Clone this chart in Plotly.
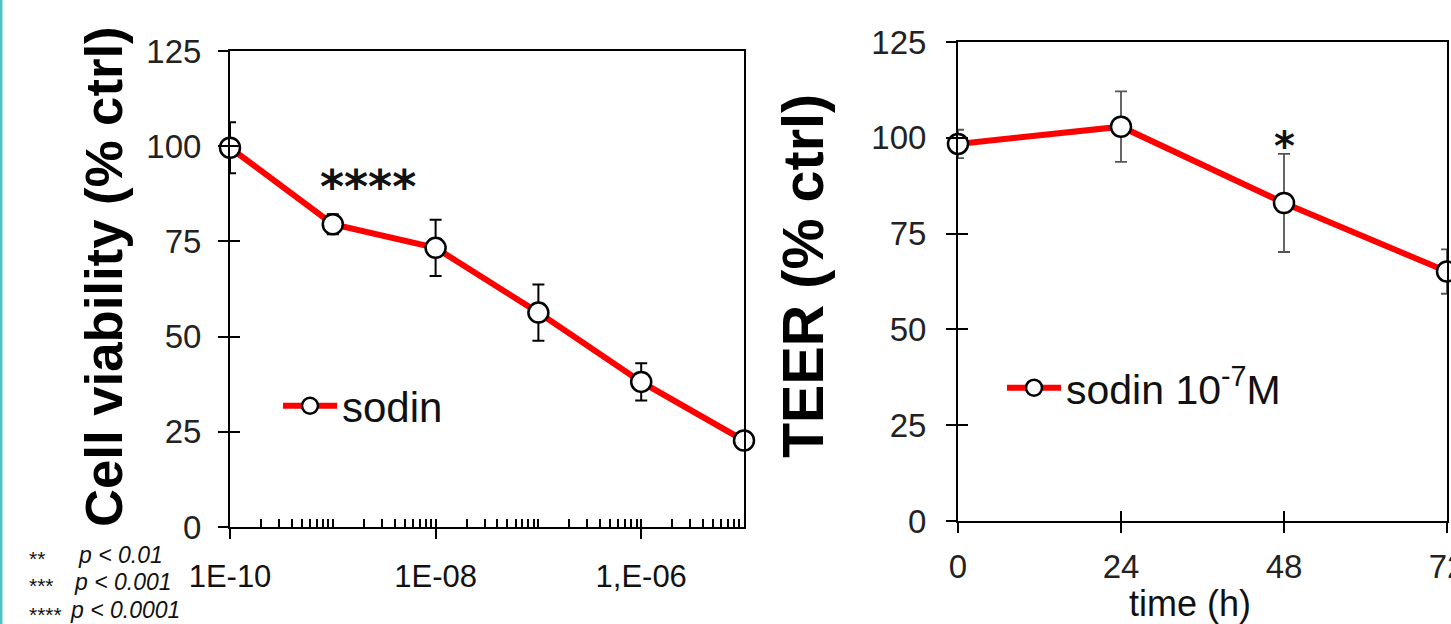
import plotly.graph_objects as go

# ---- data ----
conc = [1e-10, 1e-9, 1e-8, 1e-7, 1e-6, 1e-5]
viability = [99.6, 79.5, 73.3, 56.3, 38.1, 22.7]
viability_err = [6.7, 2.6, 7.4, 7.4, 4.9, 1.5]
conc_tickvals = [1e-10, 1e-8, 1e-6]
conc_ticktext = ["1E-10", "1E-08", "1,E-06"]

time_h = [0, 24, 48, 72]
teer = [98.4, 102.9, 83.0, 65.1]
teer_err = [3.7, 9.2, 12.8, 5.8]
time_ticks = [0, 24, 48, 72]

y_ticks = [0, 25, 50, 75, 100, 125]

W, H = 1451, 624
FONT = "Liberation Sans, Arial, sans-serif"
RED = "#FF0000"

def px(x):
    return x / W

def py(y):
    return 1 - y / H

fig = go.Figure()

fig.add_trace(go.Scatter(
    x=conc, y=viability, name="sodin",
    mode="lines+markers",
    line=dict(color=RED, width=6),
    marker=dict(size=20, color="white", line=dict(color="black", width=2.5)),
    error_y=dict(type="data", array=viability_err, color="black", thickness=2, width=6),
    cliponaxis=False, xaxis="x", yaxis="y", legend="legend",
))

fig.add_trace(go.Scatter(
    x=time_h, y=teer, name="sodin 10<sup>-7</sup>M",
    mode="lines+markers",
    line=dict(color=RED, width=6),
    marker=dict(size=20, color="white", line=dict(color="black", width=2.5)),
    error_y=dict(type="data", array=teer_err, color="#555555", thickness=1.8, width=6),
    cliponaxis=False, xaxis="x2", yaxis="y2", legend="legend2",
))

# invisible companions so the tick-only overlay axes are drawn
for xa, ya, xs, ys in [("x3", "y", conc, viability), ("x", "y3", conc, viability),
                       ("x4", "y2", time_h, teer), ("x2", "y4", time_h, teer)]:
    fig.add_trace(go.Scatter(x=xs, y=ys, xaxis=xa, yaxis=ya, mode="markers",
                             marker=dict(opacity=0, size=1), showlegend=False,
                             hoverinfo="skip"))

axis_common = dict(showgrid=False, zeroline=False, showline=True, linecolor="black",
                   linewidth=2, mirror=True, ticks="outside", ticklen=10, tickwidth=2,
                   tickcolor="black", automargin=False, ticklabeloverflow="allow")
overlay_common = dict(showgrid=False, zeroline=False, showline=False, ticks="inside",
                      tickwidth=2, tickcolor="black", showticklabels=False, automargin=False)

left_xd = [px(230), px(744)]
left_yd = [py(527), py(51)]
right_xd = [px(958), px(1447)]
right_yd = [py(521), py(42)]

fig.update_layout(
    width=W, height=H, autosize=False,
    margin=dict(l=0, r=0, t=0, b=0, pad=0),
    paper_bgcolor="white", plot_bgcolor="white",
    font=dict(family=FONT, color="black"),
    xaxis=dict(**axis_common, type="log", range=[-10, -5], domain=left_xd, anchor="y",
               tickmode="array", tickvals=conc_tickvals, ticktext=conc_ticktext,
               tickfont=dict(size=31, color="#111111"), ticklabelstandoff=11),
    yaxis=dict(**axis_common, range=[0, 125], domain=left_yd, anchor="x",
               tickmode="array", tickvals=y_ticks,
               tickfont=dict(size=33, color="#222222"), ticklabelstandoff=10),
    xaxis3=dict(**overlay_common, type="log", range=[-10, -5], overlaying="x", anchor="y",
                tickmode="linear", tick0=0, dtick="D1", ticklen=8),
    yaxis3=dict(**overlay_common, range=[0, 125], overlaying="y", anchor="x",
                tickmode="array", tickvals=y_ticks, ticklen=10),
    xaxis2=dict(**axis_common, range=[0, 72], domain=right_xd, anchor="y2",
                tickmode="array", tickvals=time_ticks,
                tickfont=dict(size=33, color="#222222"), ticklabelstandoff=5),
    yaxis2=dict(**axis_common, range=[0, 125], domain=right_yd, anchor="x2",
                tickmode="array", tickvals=y_ticks,
                tickfont=dict(size=33, color="#222222"), ticklabelstandoff=13),
    xaxis4=dict(**overlay_common, range=[0, 72], overlaying="x2", anchor="y2",
                tickmode="array", tickvals=[24, 48], ticklen=10),
    yaxis4=dict(**overlay_common, range=[0, 125], overlaying="y2", anchor="x2",
                tickmode="array", tickvals=[25, 50, 75, 100], ticklen=10),
    legend=dict(x=px(278), y=py(406), xanchor="left", yanchor="middle", itemwidth=54,
                font=dict(size=42, color="#111111"), bgcolor="rgba(0,0,0,0)"),
    legend2=dict(x=px(1002), y=py(388), xanchor="left", yanchor="middle", itemwidth=54,
                 font=dict(size=41, color="#111111"), bgcolor="rgba(0,0,0,0)"),
    showlegend=True,
)

annotations = [
    dict(text="<b>Cell viability (% ctrl)</b>", x=px(103), y=py(277), textangle=-90,
         font=dict(size=52.7, family=FONT, color="black")),
    dict(text="<b>TEER (% ctrl)</b>", x=px(803), y=py(276), textangle=-90,
         font=dict(size=57.5, family=FONT, color="black")),
    dict(text="time (h)", x=px(1190), y=py(603),
         font=dict(size=36, family=FONT, color="#111111")),
    dict(text="<b>****</b>", x=px(368), y=py(187),
         font=dict(size=46, family="DejaVu Sans", color="#111111")),
    dict(text="<b>*</b>", x=48, xref="x2", y=py(146),
         font=dict(size=40, family="DejaVu Sans", color="#111111")),
]
for txt, ys in [("**", 558), ("***", 585), ("****", 614)]:
    annotations.append(dict(text=txt, x=px(27), y=py(ys), xanchor="left",
                            font=dict(size=21, family=FONT, color="#111111")))
for txt, xs, ys in [("p &lt; 0.01", 76, 555), ("p &lt; 0.001", 72, 582), ("p &lt; 0.0001", 68, 610)]:
    annotations.append(dict(text="<i>" + txt + "</i>", x=px(xs), y=py(ys), xanchor="left",
                            font=dict(size=23, family=FONT, color="#111111")))
for a in annotations:
    a.setdefault("xref", "paper")
    a.setdefault("yref", "paper")
    a.setdefault("xanchor", "center")
    a.setdefault("yanchor", "middle")
    a["showarrow"] = False
fig.update_layout(annotations=annotations)

fig.add_shape(type="rect", xref="paper", yref="paper", x0=0, x1=px(2.5), y0=0, y1=1,
              fillcolor="#4FC4C8", line=dict(width=0), layer="above")

fig.write_html("out.html", config={"displayModeBar": False},
               post_script="document.body.style.margin='0px';document.body.style.overflow='hidden';")
